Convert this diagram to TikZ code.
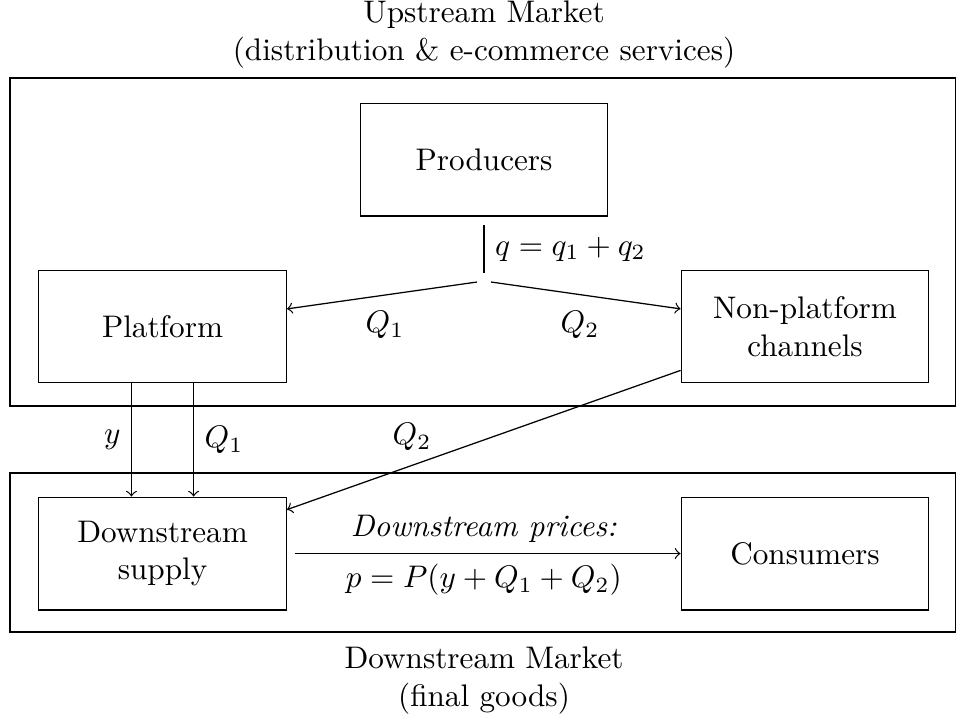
\documentclass[tikz,border=0pt]{standalone}
\usepackage{tikz}

\begin{document}
\begin{tikzpicture}[agent/.style={draw, minimum width=2.79cm, minimum height=1.27cm, align=center}]
        \useasboundingbox (0,0) rectangle (10.77,-8.10);

        % Mercados
        \draw (0.113,-0.879) rectangle (10.76,-4.574);
        \draw (0.113,-5.329) rectangle (10.76,-7.120);
        \node[align=center] (upmkt) at (5.453,-0.39) {Upstream Market\\(distribution \& e-commerce services)};
        \node[align=center] (downmkt) at (5.453,-7.667) {Downstream Market\\(final goods)};

        % Caixas
        \node[agent] (prod) at (5.453,-1.797) {Producers};
        \node[agent] (plat) at (1.831,-3.678) {Platform};
        \node[agent] (nonplat) at (9.069,-3.678) {Non-platform\\channels};
        \node[agent] (down) at (1.831,-6.236) {Downstream\\supply};
        \node[agent] (cons) at (9.069,-6.236) {Consumers};

        % Oferta dos produtores
        \coordinate (qtop) at (5.453,-2.535);
        \coordinate (qbot) at (5.453,-3.076);
        \coordinate (splitL) at (5.374,-3.177);
        \coordinate (splitR) at (5.532,-3.177);
        \draw (qtop) -- (qbot) node[midway, anchor=west] {$q = q_1 + q_2$};
        \draw[->] (splitL) -- (plat);
        \draw[->] (splitR) -- (nonplat);
        \node (q1up) at (4.338,-3.662) {$Q_1$};
        \node (q2up) at (6.534,-3.662) {$Q_2$};

        % Fluxos para o mercado final
        \draw[->] ([xshift=-0.35cm]plat.south) -- ([xshift=-0.35cm]down.north) node[midway, left] {$y$};
        \draw[->] ([xshift=0.35cm]plat.south) -- ([xshift=0.35cm]down.north) node[midway, right] {$Q_1$};
        \draw[->] (nonplat) -- (down);
        \node (q2down) at (4.642,-4.923) {$Q_2$};

        % Precos
        \draw[->, shorten <=0.09cm] (down) -- (cons)
            node[midway, above] {\textit{Downstream prices:}}
            node[midway, below] {$p = P(y + Q_1 + Q_2)$};
    \end{tikzpicture}
\end{document}
